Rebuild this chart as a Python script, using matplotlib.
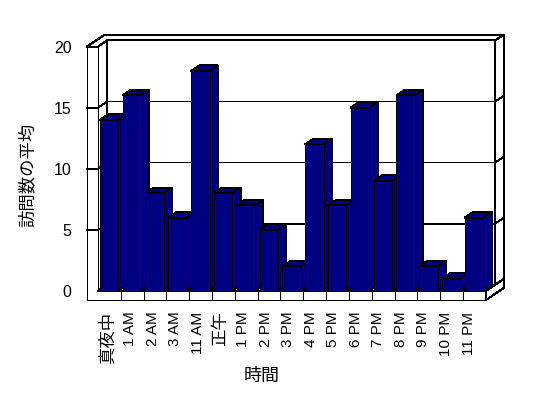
import matplotlib
matplotlib.use("Agg")
import matplotlib.pyplot as plt
from matplotlib.patches import Polygon

# Data
categories = ["真夜中", "1 AM", "2 AM", "3 AM", "11 AM", "正午", "1 PM", "2 PM",
              "3 PM", "4 PM", "5 PM", "6 PM", "7 PM", "8 PM", "9 PM", "10 PM",
              "11 PM"]
visits = [14, 16, 8, 6, 18, 8, 7, 5, 2, 12, 7, 15, 9, 16, 2, 1, 6]
y_ticks = [0, 5, 10, 15, 20]

plt.rcParams["font.family"] = ["Liberation Sans", "Noto Sans CJK JP"]

# oblique "3D" box, in data units (x = category slot, y = value)
DX, DY = 0.412, 0.516      # depth of the plot box
WALL = 0.49                # left wall thickness
FLOOR = 0.737              # floor thickness
BACK = 0.9                 # back wall thickness, as part of the depth
BAR_OFF, BAR_W = 0.07, 0.81
BAR_FRONT, BAR_D = 0.03, 0.88
BAR_COLOR = "#000080"
LW = 0.71
GRID_LW = 0.6

n = len(categories)
ymax = y_ticks[-1]
full = 1 + BACK

fig = plt.figure(figsize=(5.48, 3.98), dpi=100)
ax = fig.add_axes([0.1582, 0.2462, 0.7611, 0.6666])
ax.set_xlim(-WALL, n + full * DX)
ax.set_ylim(-FLOOR, ymax + full * DY)
for s in ax.spines.values():
    s.set_visible(False)
ax.patch.set_visible(False)


def face(pts, color="white", z=1):
    ax.add_patch(Polygon(pts, closed=True, facecolor=color, edgecolor="black",
                         linewidth=LW, antialiased=False, clip_on=False,
                         zorder=z))


# back wall (inner face + right side)
face([(DX, DY), (n + DX, DY), (n + DX, ymax + DY), (DX, ymax + DY)])
face([(n + DX, DY), (n + full * DX, full * DY),
      (n + full * DX, ymax + full * DY), (n + DX, ymax + DY)])
# top edge of walls
face([(-WALL, ymax), (0, ymax), (DX, ymax + DY), (n + DX, ymax + DY),
      (n + full * DX, ymax + full * DY), (-WALL + full * DX, ymax + full * DY)])
# left wall inner face
face([(0, 0), (DX, DY), (DX, ymax + DY), (0, ymax)])
# front of left wall + floor
face([(-WALL, -FLOOR), (n, -FLOOR), (n, 0), (0, 0), (0, ymax), (-WALL, ymax)])
# floor right side and top
face([(n, -FLOOR), (n + full * DX, -FLOOR + full * DY),
      (n + full * DX, full * DY), (n, 0)])
face([(0, 0), (n, 0), (n + DX, DY), (DX, DY)])

# gridlines
for v in y_ticks[1:-1]:
    ax.plot([-WALL, 0, DX, n + DX, n + full * DX],
            [v, v, v + DY, v + DY, v + full * DY],
            color="black", lw=GRID_LW, antialiased=False, clip_on=False,
            zorder=2)

# category separators on the floor front
for i in range(1, n):
    ax.plot([i, i], [-FLOOR, 0], color="black", lw=GRID_LW,
            antialiased=False, clip_on=False, zorder=2)

# bars
fx, fy = BAR_FRONT * DX, BAR_FRONT * DY
bdx, bdy = BAR_D * DX, BAR_D * DY
for i, v in enumerate(visits):
    x0 = i + BAR_OFF + fx
    x1 = x0 + BAR_W
    z = 10 + i
    face([(x1, fy), (x1 + bdx, fy + bdy), (x1 + bdx, v + fy + bdy),
          (x1, v + fy)], BAR_COLOR, z)
    face([(x0, v + fy), (x1, v + fy), (x1 + bdx, v + fy + bdy),
          (x0 + bdx, v + fy + bdy)], BAR_COLOR, z)
    face([(x0, fy), (x1, fy), (x1, v + fy), (x0, v + fy)], BAR_COLOR, z)

# axes text
ax.set_yticks(y_ticks)
ax.tick_params(axis="y", length=0, pad=10.8, labelsize=11.5)
tick_pos = [0.43 + 0.988 * i for i in range(n)]
ax.set_xticks(tick_pos, categories, rotation=90)
ax.tick_params(axis="x", length=0, pad=8.4, labelsize=11)
for lbl in ax.get_xticklabels():
    if any(ord(c) > 0x2E80 for c in lbl.get_text()):
        lbl.set_fontsize(12.5)

ax.set_ylabel("訪問数の平均", fontsize=12.5)
ax.yaxis.set_label_coords(-0.143, 0.471)
ax.yaxis.label.set_va("center")
ax.set_xlabel("時間", fontsize=13)
ax.xaxis.set_label_coords(0.42, -0.289)
ax.xaxis.label.set_va("center")

fig.savefig("out.png", dpi=100)
